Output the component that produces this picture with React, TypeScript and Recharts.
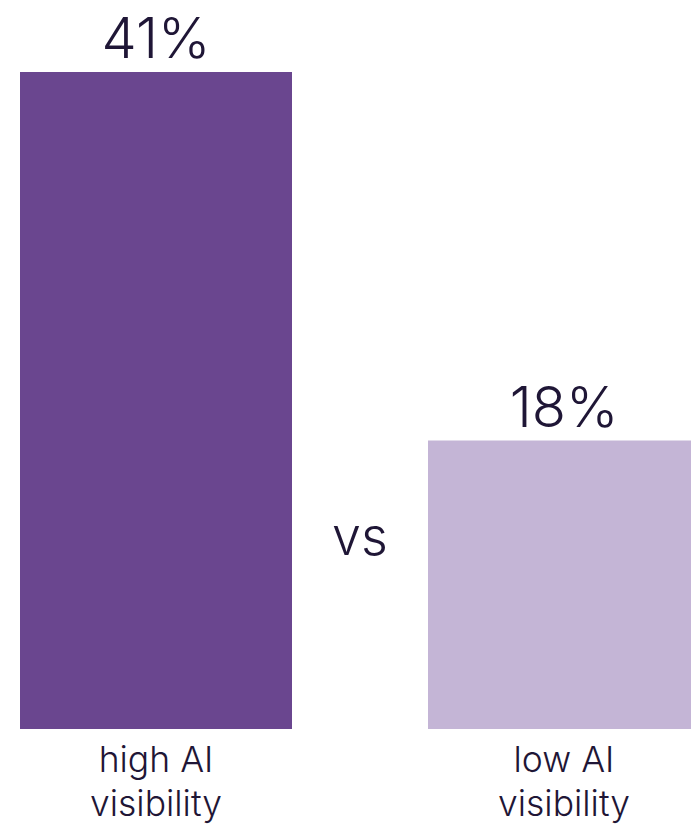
import { BarChart, Bar, XAxis, YAxis, LabelList, Cell } from 'recharts'

const categories = ['high AI\nvisibility', 'low AI\nvisibility']
const shares = [41, 18]
const barColors = ['#6a468f', '#c4b5d6']

const chartData = categories.map((name, i) => ({ name, value: shares[i] }))

const TEXT = '#1f1636'
const FONT = 'Inter, "Noto Sans", sans-serif'

const CategoryTick = ({ x, y, payload }: any) => {
    const lines = String(payload.value).split('\n')
    return (
        <text x={x} y={y} textAnchor='middle' fill={TEXT} fontFamily={FONT} fontSize={35.5} fontWeight={300}>
            {lines.map((line, i) => (
                <tspan key={i} x={x} dy={i === 0 ? 43 : 44}>
                    {line}
                </tspan>
            ))}
        </text>
    )
}

export default function App() {
    return (
        <div style={{ position: 'absolute', left: 0, top: 0, width: 691, height: 826, overflow: 'hidden', background: '#fff' }}>
            <div style={{ position: 'absolute', left: -48, top: 0 }}>
                <BarChart
                    width={816}
                    height={826}
                    data={chartData}
                    margin={{ top: 72, right: 0, bottom: 0, left: 0 }}
                >
                    <XAxis
                        dataKey='name'
                        height={97}
                        axisLine={false}
                        tickLine={false}
                        tickSize={0}
                        tickMargin={0}
                        interval={0}
                        tick={<CategoryTick />}
                    />
                    <YAxis hide domain={[0, 'dataMax']} />
                    <Bar dataKey='value' barSize={272} isAnimationActive={false}>
                        {chartData.map((_, i) => (
                            <Cell key={i} fill={barColors[i]} />
                        ))}
                        <LabelList
                            dataKey='value'
                            position='top'
                            offset={14}
                            formatter={(v: any) => `${v}%`}
                            fill={TEXT}
                            fontFamily={FONT}
                            fontSize={56}
                            fontWeight={300}
                        />
                    </Bar>
                </BarChart>
            </div>
            <div
                style={{
                    position: 'absolute',
                    left: 310,
                    top: 537,
                    width: 100,
                    transform: 'translateY(-50%)',
                    textAlign: 'center',
                    color: TEXT,
                    fontFamily: FONT,
                    fontSize: 52,
                    fontWeight: 300,
                    lineHeight: 1,
                }}
            >
                vs
            </div>
        </div>
    )
}
